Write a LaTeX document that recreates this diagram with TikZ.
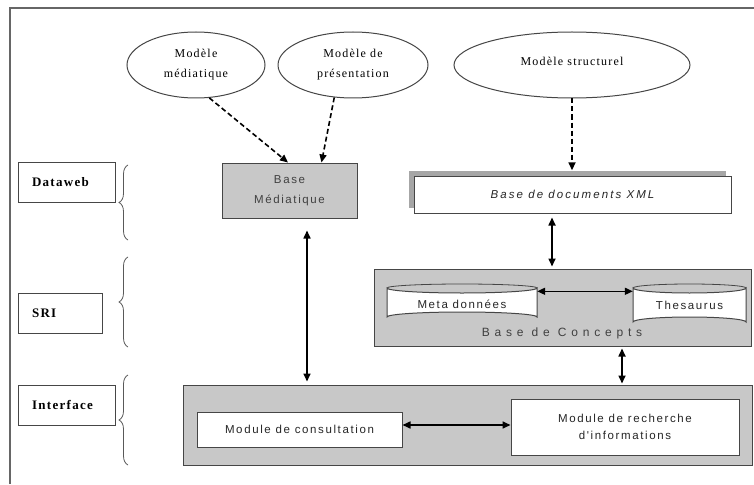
\documentclass[tikz,border=0pt]{standalone}
\usepackage{fontspec}
\setmainfont{Liberation Serif}
\newfontfamily\boxfont[LetterSpace=14]{Liberation Sans}
\newfontfamily\widefont[LetterSpace=40]{Liberation Sans}
\newfontfamily\xmlfont[LetterSpace=18]{Liberation Sans}
\newfontfamily\modfont[LetterSpace=10]{Liberation Serif}
\newfontfamily\lblfont[LetterSpace=10]{Liberation Serif}
\usetikzlibrary{arrows.meta,shapes.geometric,decorations.pathreplacing}

\definecolor{panel}{RGB}{200,200,200}
\definecolor{edge}{RGB}{70,70,70}

\tikzset{
  model/.style={ellipse, draw=edge, line width=1pt, fill=white, align=center,
    inner sep=0pt, minimum height=66pt,
    font=\modfont\fontsize{12}{20}\selectfont},
  graybox/.style={draw=edge, line width=1pt, fill=panel},
  whitebox/.style={draw=edge, line width=1pt, fill=white, align=center,
    font=\boxfont\fontsize{11.5}{17}\selectfont, text=black!85},
  lbl/.style={draw=edge, line width=1pt, fill=white, align=left,
    inner xsep=14pt, inner ysep=0pt,
    font=\lblfont\bfseries\fontsize{13}{15}\selectfont},
  tipA/.tip={Triangle[length=8pt,width=7pt]},
  modelarrow/.style={line width=1.6pt, dash pattern=on 5pt off 3pt, -tipA},
  link/.style={line width=1.6pt, tipA-tipA},
  layerbrace/.style={draw=black!65, line width=0.8pt, decorate,
    decoration={brace, amplitude=9pt}},
}

\begin{document}
\begin{tikzpicture}[x=1pt,y=-1pt]
\useasboundingbox (0,0) rectangle (754,484);

% outer frame
\draw[draw=black!60, line width=1.5pt] (10,484) -- (10,8) -- (754,8);

% models
\node[model, minimum width=138pt] (mmed) at (196,65) {Modèle\\médiatique};
\node[model, minimum width=150pt] (mpres) at (353,65) {Modèle de\\présentation};
\node[model, minimum width=236pt, text depth=8pt] (mstruct) at (572,65) {Modèle structurel};

% media base
\node[graybox, minimum width=135pt, minimum height=55pt, align=center,
      font=\boxfont\fontsize{11.5}{20}\selectfont, text=black!75]
      (bmed) at (289.5,190.5) {Base\\Médiatique};

% XML documents base with its offset shadow
\node[fill=black!35, minimum width=317pt, minimum height=37pt, inner sep=0pt]
      (xmlsh) at (567.5,189) {};
\node[whitebox, minimum width=317pt, minimum height=37pt, inner sep=0pt,
      font=\xmlfont\itshape\fontsize{11.5}{14}\selectfont]
      (xml) at (572.5,194.5) {Base de documents XML};

% concept base
\node[graybox, minimum width=377pt, minimum height=77pt] (bcon) at (562.5,307.5) {};
\node[font=\widefont\fontsize{12}{14}\selectfont, text=black!75, inner sep=0pt]
      (bcontitle) at (562,333) {Base de Concepts};

% meta-data and thesaurus stores
\draw[draw=edge, line width=1pt, fill=white]
  (387,288) -- (387,317) arc[start angle=180, end angle=360, x radius=75, y radius=5]
  -- (537,288) arc[start angle=0, end angle=180, x radius=75, y radius=5] -- cycle;
\draw[draw=edge, line width=0.8pt] (387,288) arc[start angle=180, end angle=360, x radius=75, y radius=4];
\node[font=\boxfont\fontsize{11.5}{14}\selectfont, text=black!85,
      minimum width=150pt, minimum height=39pt, inner sep=0pt]
      (meta) at (462,304) {Meta données};

\draw[draw=edge, line width=1pt, fill=white]
  (633,288) -- (633,322) arc[start angle=180, end angle=360, x radius=56.5, y radius=5]
  -- (746,288) arc[start angle=0, end angle=180, x radius=56.5, y radius=5] -- cycle;
\draw[draw=edge, line width=0.8pt] (633,288) arc[start angle=180, end angle=360, x radius=56.5, y radius=4];
\node[font=\boxfont\fontsize{11.5}{14}\selectfont, text=black!85,
      minimum width=113pt, minimum height=45pt, inner sep=0pt]
      (thes) at (689.5,305.5) {Thesaurus};

% interface panel and its modules
\node[graybox, minimum width=569pt, minimum height=80pt] (iface) at (467.5,425) {};
\node[whitebox, minimum width=205pt, minimum height=35pt, inner sep=0pt]
      (mcons) at (299.5,429.5) {Module de consultation};
\node[whitebox, minimum width=228pt, minimum height=56pt, inner sep=0pt]
      (mrech) at (625,427) {Module de recherche\\d'informations};

% layer labels
\node[lbl, text width=69pt, minimum height=40pt] (ldw) at (66.5,182) {Dataweb};
\node[lbl, text width=56pt, minimum height=40pt] (lsri) at (60,313) {SRI};
\node[lbl, text width=69pt, minimum height=40pt] (lif) at (66.5,405) {Interface};

% layer braces
\coordinate (b1a) at (128,240); \coordinate (b1b) at (128,165);
\coordinate (b2a) at (128,347); \coordinate (b2b) at (128,257);
\coordinate (b3a) at (128,465); \coordinate (b3b) at (128,375);
\draw[layerbrace] (b1a) -- (b1b);
\draw[layerbrace] (b2a) -- (b2b);
\draw[layerbrace] (b3a) -- (b3b);

% model dependencies
\draw[modelarrow] (mmed.-68) -- ([xshift=-1.5pt]bmed.north);
\draw[modelarrow] (mpres.-120) -- ([xshift=32pt]bmed.north);
\draw[modelarrow] (mstruct.south) -- (mstruct.south |- xmlsh.north);

% data exchanges
\coordinate (p1) at ([xshift=17.5pt,yshift=-12pt]bmed.south);
\coordinate (p2) at (p1 |- iface.north);
\draw[link] (p1) -- ([yshift=3pt]p2);

\coordinate (q1) at ([xshift=-20.5pt,yshift=-4pt]xml.south);
\coordinate (q2) at (q1 |- bcon.north);
\draw[link] (q1) -- ([yshift=2pt]q2);

\draw[link] ([yshift=-7pt]meta.north east) -- ([yshift=-8.5pt]thes.north west);

\coordinate (r1) at ([xshift=59.5pt,yshift=-2pt]bcon.south);
\coordinate (r2) at (r1 |- iface.north);
\draw[link] (r1) -- ([yshift=1pt]r2);

\draw[link] ([yshift=4.5pt]mcons.east) -- ([yshift=4.5pt]mcons.east -| mrech.west);
\end{tikzpicture}
\end{document}
